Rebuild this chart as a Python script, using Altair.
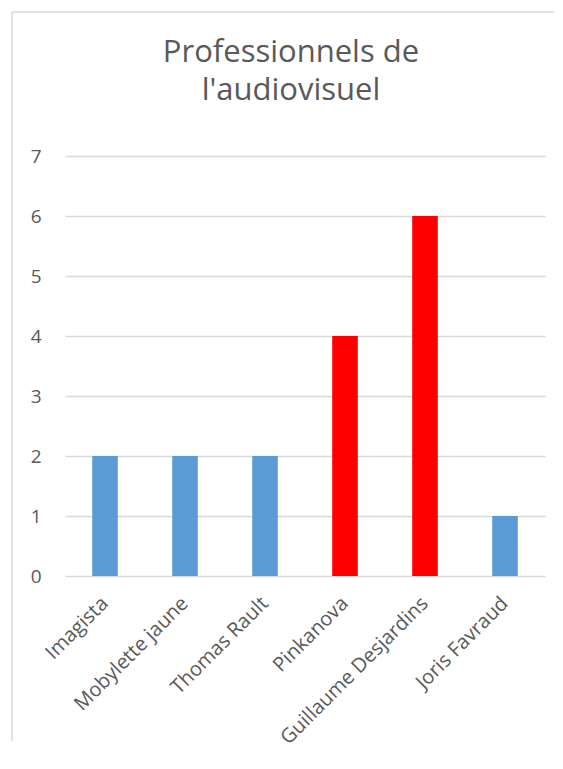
import altair as alt
import pandas as pd

categories = ["Imagista", "Mobylette jaune", "Thomas Rault", "Pinkanova", "Guillaume Desjardins", "Joris Favraud"]
values = [2, 2, 2, 4, 6, 1]
groups = ["bleu", "bleu", "bleu", "rouge", "rouge", "bleu"]
y_ticks = [0, 1, 2, 3, 4, 5, 6, 7]

df = pd.DataFrame({"nom": categories, "valeur": values, "groupe": groups})

FONT = "Open Sans"
GRAY = "#595959"

bars = alt.Chart(df).mark_bar().encode(
    x=alt.X("nom:N", sort=categories, title=None,
            scale=alt.Scale(paddingInner=0.68, paddingOuter=0.34),
            axis=alt.Axis(labelAngle=-45, labelAlign="right", labelBaseline="middle",
                          labelFont=FONT, labelFontSize=20, labelColor=GRAY,
                          labelPadding=24, labelLimit=0, ticks=False, domain=False, grid=False,
                          labelOverlap=False)),
    y=alt.Y("valeur:Q", title=None,
            scale=alt.Scale(domain=[0, 7], nice=False),
            axis=alt.Axis(values=y_ticks, labelFont=FONT, labelFontSize=19, labelColor=GRAY,
                          labelPadding=24, ticks=False, domain=False, grid=True,
                          gridColor="#d9d9d9", gridWidth=1.5)),
    color=alt.Color("groupe:N", legend=None,
                    scale=alt.Scale(domain=["bleu", "rouge"], range=["#5B9BD5", "#FF0000"])),
)

frame_df = pd.DataFrame({"k": [0]})
left_line = alt.Chart(frame_df).mark_rule(color="#d9d9d9", strokeWidth=1.5).encode(
    x=alt.value(-53), y=alt.value(-144), y2=alt.value(585)
)
top_line = alt.Chart(frame_df).mark_rule(color="#d9d9d9", strokeWidth=1.5).encode(
    x=alt.value(-53), x2=alt.value(489), y=alt.value(-144)
)

chart = alt.layer(bars, left_line, top_line).properties(
    width=480,
    height=420,
    padding={"left": 3, "top": 3, "right": 0, "bottom": 0},
    title=alt.Title(["Professionnels de", "l'audiovisuel"], font=FONT, fontSize=31,
                    fontWeight="normal", color=GRAY, lineHeight=38, offset=-96,
                    anchor="middle", dx=-14),
).configure(background="white").configure_view(stroke=None)

chart.save("out.html", embed_options={"renderer": "svg", "actions": False})
